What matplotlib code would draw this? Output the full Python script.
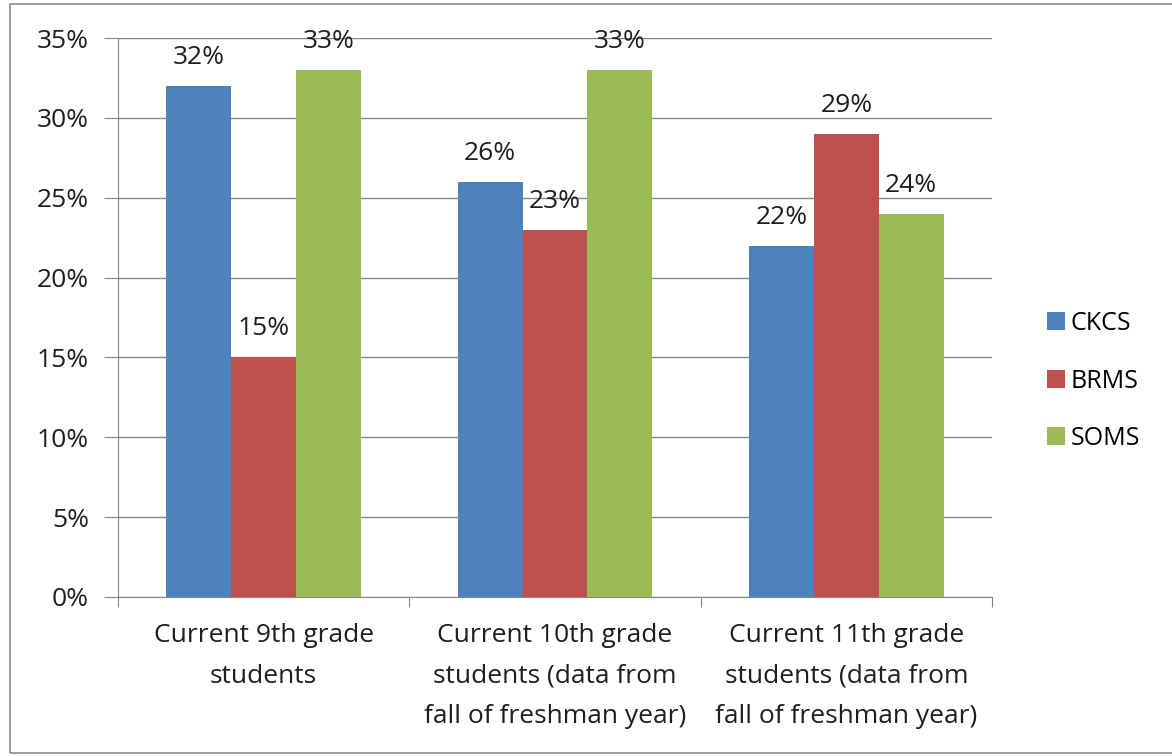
import matplotlib
matplotlib.use('Agg')
import matplotlib.pyplot as plt
import numpy as np
from matplotlib.patches import Rectangle

categories = ["Current 9th grade\nstudents",
              "Current 10th grade\nstudents (data from\nfall of freshman year)",
              "Current 11th grade\nstudents (data from\nfall of freshman year)"]
series_names = ["CKCS", "BRMS", "SOMS"]
ckcs = [32, 26, 22]
brms = [15, 23, 29]
soms = [33, 33, 24]
colors = ["#4F81BD", "#C0504D", "#9BBB59"]

plt.rcParams['font.family'] = ['Open Sans', 'DejaVu Sans']
FS = 19
TXT = '#1e1e1e'

fig = plt.figure(figsize=(11.72, 7.56), dpi=100)
ax = fig.add_axes([118 / 1172, 1 - 597 / 756, (992 - 118) / 1172, (597 - 38) / 756])

x = np.arange(len(categories))
w = 0.223
for i, (vals, name) in enumerate(zip([ckcs, brms, soms], series_names)):
    pos = x + (i - 1) * w
    bars = ax.bar(pos, vals, width=w, color=colors[i], label=name, zorder=3)
    for b, v in zip(bars, vals):
        ax.text(b.get_x() + b.get_width() / 2, v + 1.0, f"{v}%",
                ha='center', va='bottom', fontsize=FS, color=TXT)

ax.set_xlim(-0.5, 2.5)
ax.set_ylim(0, 35)
ax.set_yticks(range(0, 36, 5))
ax.set_yticklabels([f"{t}%" for t in range(0, 36, 5)])
ax.yaxis.grid(True, color='#868686', linewidth=1, zorder=0)

# category boundary ticks on x axis
ax.set_xticks([-0.5, 0.5, 1.5, 2.5])
ax.set_xticklabels([])
ax.set_xticks(x, minor=True)
ax.set_xticklabels(categories, minor=True, fontsize=FS, color=TXT, linespacing=1.8)
ax.tick_params(axis='x', which='minor', length=0, pad=19)
ax.tick_params(axis='x', which='major', length=7, color='#868686')
ax.tick_params(axis='y', length=10, color='#868686', labelsize=FS, labelcolor=TXT, pad=11)

for s in ['top', 'right']:
    ax.spines[s].set_visible(False)
for s in ['left', 'bottom']:
    ax.spines[s].set_color('#868686')

leg = fig.legend(loc='center left', bbox_to_anchor=(1024 / 1172, 1 - 381 / 756),
                 frameon=False, fontsize=FS - 1, handlelength=0.75, handleheight=0.75,
                 handletextpad=0.2, labelspacing=1.3)

# outer chart border
fig.patches.append(Rectangle((10 / 1172, 3 / 756), 1.2, 749 / 756, transform=fig.transFigure,
                             fill=False, edgecolor='#8c8c8c', linewidth=1.2))

fig.savefig("out.png", dpi=100)
